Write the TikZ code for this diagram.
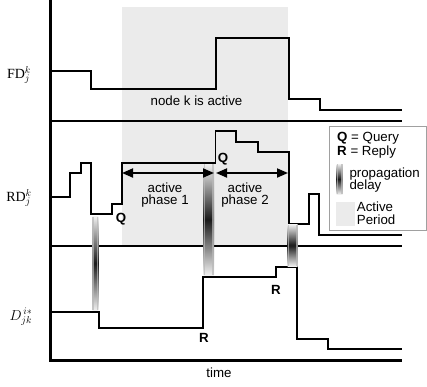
\documentclass[tikz,border=0pt]{standalone}
\usepackage{fontspec}
\setsansfont{Liberation Sans}
\setmainfont{Liberation Serif}
\usetikzlibrary{arrows.meta}
\definecolor{activegray}{RGB}{235,235,235}
\definecolor{legendgray}{RGB}{160,160,160}
\tikzset{
  sig/.style={line width=1.8pt, line join=miter},
  sepline/.style={line width=2.4pt},
  axisline/.style={line width=3pt, line join=miter},
  lbl/.style={font=\sffamily\fontsize{13.3}{12.8}\selectfont, inner sep=0pt},
  boldlbl/.style={font=\sffamily\bfseries\fontsize{13.3}{12.8}\selectfont, inner sep=0pt},
  mlbl/.style={font=\fontsize{14}{14}\selectfont, inner sep=0pt},
  phase/.style={line width=1.8pt, {Triangle[length=11pt,width=9pt]}-{Triangle[length=11pt,width=9pt]}},
  legendbox/.style={draw=legendgray, line width=1pt, fill=white},
}
\newcommand\pdbar[4]{%
  \shade[top color=gray!12, bottom color=gray!12, middle color=black!90] (#1,#2) rectangle (#3,#4);
  \fill[gray!55, opacity=0.7] (#1,#2) rectangle ++(1.6,#4-#2);
  \fill[gray!55, opacity=0.7] (#3,#2) rectangle ++(-1.6,#4-#2);
}
\begin{document}
\begin{tikzpicture}[x=1pt,y=-1pt]
\useasboundingbox (0,0) rectangle (427,386);
% active period
\fill[activegray] (122,7) rectangle (288,246);
% separators
\draw[sepline] (50,121) -- (402,121);
\draw[sepline] (50,246) -- (402,246);
% FD signal
\draw[sig] (50,71) -- (91.3,71) -- (91.3,89.3) -- (215.7,89.3) -- (215.7,37.7) -- (289,37.7) -- (289,99) -- (320,99) -- (320,110) -- (402,110);
% RD signal
\draw[sig] (50,197) -- (70,197) -- (70,173) -- (81,173) -- (81,163) -- (91.3,163) -- (91.3,214) -- (112,214) -- (112,204) -- (122,204) -- (122,163) -- (215.5,163) -- (215.5,131) -- (235.7,131) -- (235.7,142) -- (257.7,142) -- (257.7,152.3) -- (289,152.3) -- (289,224.3) -- (309,224.3) -- (309,194) -- (319,194) -- (319,235) -- (402,235);
% D signal
\draw[sig] (50,311.7) -- (99.3,311.7) -- (99.3,328.3) -- (203.3,328.3) -- (203.3,276.7) -- (276,276.7) -- (276,266.7) -- (296.7,266.7) -- (296.7,339) -- (327.7,339) -- (327.7,349) -- (402,349);
% propagation delay bars
\pdbar{92.3}{216.5}{98.3}{310}
\pdbar{203.5}{164}{214}{275}
\pdbar{287.5}{224.5}{297.7}{266}
% axes
\draw[axisline] (50,0) -- (50,360) -- (402,360);
% phase arrows
\coordinate (p1a) at (122,173);
\coordinate (p1b) at (214,173);
\coordinate (p2a) at (216,173);
\coordinate (p2b) at (288,173);
\draw[phase] (p1a) -- (p1b);
\draw[phase] (p2a) -- (p2b);
% texts
\node[lbl] (nka) at (196.5,101) {node k is active};
\node[lbl, align=center] (ph1) at (165,195) {active\\phase 1};
\node[lbl, align=center] (ph2) at (245,195) {active\\phase 2};
\node[boldlbl] (q1) at (121,219) {Q};
\node[boldlbl] (q2) at (223,159) {Q};
\node[boldlbl] (r1) at (204,338) {R};
\node[boldlbl] (r2) at (276,290) {R};
\node[lbl] (time) at (219,373) {time};
\node[mlbl] (fd) at (19,75) {$\mathrm{FD}_j^k$};
\node[mlbl] (rd) at (19,198) {$\mathrm{RD}_j^k$};
\node[mlbl] (dj) at (21,317) {$D_{jk}^{\,i*}$};
% legend
\draw[legendbox] (329.5,126) rectangle (426.5,230.5);
\node[lbl, anchor=west] (lq) at (337,138.3) {\textbf{Q} = Query};
\node[lbl, anchor=west] (lr) at (337,151.7) {\textbf{R} = Reply};
\pdbar{336.7}{164}{342.7}{194}
\node[lbl, anchor=west, align=left] (lpd) at (349.3,180) {propagation\\delay};
\fill[activegray] (336,201.7) rectangle (355.3,226);
\node[lbl, anchor=west, align=left] (lap) at (356.7,213) {Active\\Period};
\end{tikzpicture}
\end{document}
